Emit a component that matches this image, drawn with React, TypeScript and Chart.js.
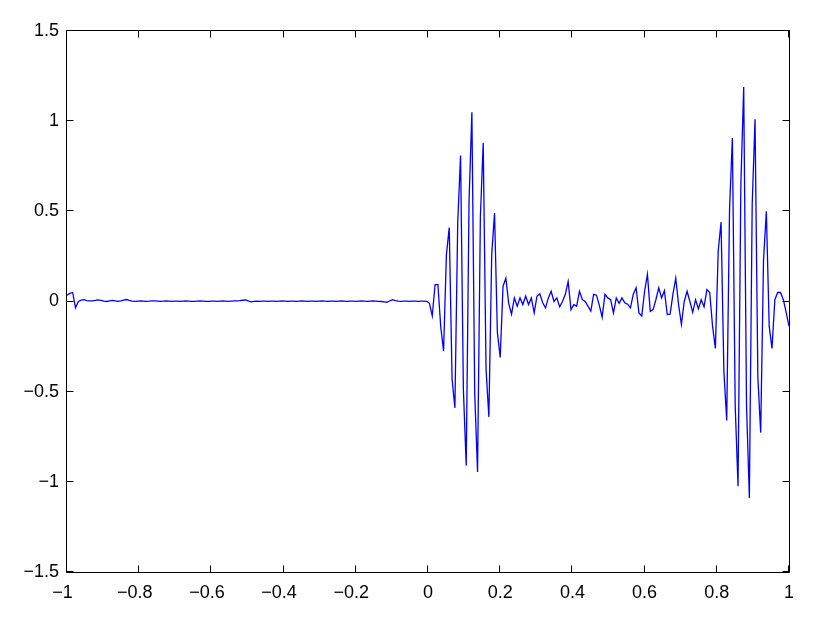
import React, { useEffect, useRef } from "react";
import { Chart, registerables } from "chart.js";

Chart.register(...registerables);

const X_MIN = -1;
const X_MAX = 1;
const Y_MIN = -1.5;
const Y_MAX = 1.5;
const X_TICKS = [-1, -0.8, -0.6, -0.4, -0.2, 0, 0.2, 0.4, 0.6, 0.8, 1];
const Y_TICKS = [-1.5, -1, -0.5, 0, 0.5, 1, 1.5];

// 256 samples, evenly spaced over [-1, 1]
const SIGNAL = [
  0.035, 0.045, 0.05, -0.035, 0.0, 0.008, 0.01, 0.005, 0.003, 0.004, 0.006, 0.009, 0.006, 0.002, 0.0, 0.003,
  0.006, 0.004, 0.001, 0.003, 0.008, 0.011, 0.006, 0.002, 0.001, 0.002, 0.003, 0.002, 0.001, 0.002, 0.004, 0.003,
  0.002, 0.001, 0.002, 0.003, 0.002, 0.001, 0.002, 0.002, 0.001, 0.002, 0.003, 0.002, 0.001, 0.001, 0.002, 0.003,
  0.002, 0.001, 0.001, 0.002, 0.002, 0.001, 0.002, 0.003, 0.002, 0.001, 0.002, 0.003, 0.004, 0.005, 0.007, 0.009,
  0.003, -0.002, 0.001, 0.002, 0.001, 0.002, 0.002, 0.001, 0.002, 0.002, 0.001, 0.002, 0.003, 0.002, 0.001, 0.002,
  0.002, 0.001, 0.002, 0.003, 0.002, 0.001, 0.002, 0.002, 0.001, 0.002, 0.003, 0.002, 0.001, 0.002, 0.002, 0.001,
  0.002, 0.003, 0.002, 0.001, 0.002, 0.002, 0.001, 0.002, 0.003, 0.002, 0.001, 0.002, 0.003, 0.002, 0.001, 0.0,
  -0.002, -0.004, 0.004, 0.01, 0.005, 0.002, 0.001, 0.002, 0.002, 0.001, 0.002, 0.002, 0.001, 0.002, 0.002, 0.001,
  -0.01, -0.08, 0.094, 0.094, -0.14, -0.275, 0.26, 0.41, -0.43, -0.59, 0.44, 0.81, -0.49, -0.91, 0.56, 1.05,
  -0.51, -0.945, 0.47, 0.88, -0.376, -0.64, 0.26, 0.49, -0.17, -0.31, 0.085, 0.13, -0.01, -0.07, 0.02, -0.026,
  0.02, -0.017, 0.03, -0.017, 0.02, -0.063, 0.03, 0.042, -0.007, -0.035, 0.02, 0.057, 0.0, 0.02, -0.03, 0.0,
  0.04, 0.11, -0.045, -0.017, -0.026, 0.057, 0.011, 0.0, -0.026, -0.053, 0.04, 0.035, -0.02, -0.087, 0.04, 0.02,
  0.01, -0.063, 0.02, -0.01, 0.02, -0.007, -0.015, -0.035, 0.04, 0.076, -0.063, -0.08, 0.057, 0.15, -0.055, -0.045,
  0.011, 0.076, 0.02, 0.06, -0.072, -0.07, 0.04, 0.13, -0.017, -0.127, 0.0, 0.057, 0.0, -0.06, 0.01, -0.04,
  0.01, -0.03, 0.066, 0.05, -0.137, -0.26, 0.28, 0.44, -0.386, -0.66, 0.51, 0.906, -0.58, -1.025, 0.65, 1.19,
  -0.58, -1.09, 0.537, 1.01, -0.42, -0.727, 0.23, 0.5, -0.137, -0.26, 0.01, 0.05, 0.05, 0.01, -0.06, -0.137,
];

const FONT = { family: "'Liberation Sans', Arial, Helvetica, sans-serif", size: 18 };

const fmtY = (v: number) => (v < 0 ? "\u2212" + String(Math.abs(v)) : String(v));
const fmtX = (v: number) => (v < 0 ? "\u2212" + String(Math.abs(v)) + "\u2002" : String(v));

const boxTicks = {
  id: "boxTicks",
  afterDraw(chart: any) {
    const { ctx, chartArea: a, scales } = chart;
    const L = a.left - 0.5;
    const R = a.right + 0.5;
    const T = a.top - 0.5;
    const B = a.bottom + 0.5;
    const len = 7;
    ctx.save();
    ctx.strokeStyle = "#000";
    ctx.lineWidth = 1;
    ctx.beginPath();
    ctx.rect(L, T, R - L, B - T);
    for (const v of X_TICKS) {
      const px = Math.round(scales.x.getPixelForValue(v)) - 0.5;
      ctx.moveTo(px, B);
      ctx.lineTo(px, B - len);
      ctx.moveTo(px, T);
      ctx.lineTo(px, T + len);
    }
    for (const v of Y_TICKS) {
      const py = Math.round(scales.y.getPixelForValue(v)) - 0.5;
      ctx.moveTo(L, py);
      ctx.lineTo(L + len, py);
      ctx.moveTo(R, py);
      ctx.lineTo(R - len, py);
    }
    ctx.stroke();
    ctx.restore();
  },
};

export default function App() {
  const ref = useRef<HTMLCanvasElement | null>(null);

  useEffect(() => {
    if (!ref.current) return;
    const n = SIGNAL.length;
    const points = SIGNAL.map((y, i) => ({ x: X_MIN + (i * (X_MAX - X_MIN)) / (n - 1), y }));
    const chart = new Chart(ref.current, {
      type: "line",
      data: {
        datasets: [
          {
            data: points,
            borderColor: "#0000ff",
            backgroundColor: "#0000ff",
            borderWidth: 1.3,
            pointRadius: 0,
            fill: false,
            tension: 0,
          },
        ],
      },
      options: {
        animation: false,
        responsive: false,
        maintainAspectRatio: false,
        layout: { padding: { top: 31, right: 41, left: 0, bottom: 0 } },
        plugins: { legend: { display: false }, tooltip: { enabled: false } },
        scales: {
          x: {
            type: "linear",
            min: X_MIN,
            max: X_MAX,
            grid: { display: false, drawTicks: false, tickLength: 0 },
            border: { display: false },
            afterBuildTicks: (s: any) => {
              s.ticks = X_TICKS.map((v) => ({ value: v }));
            },
            afterFit: (s: any) => {
              s.height = 53;
            },
            ticks: {
              color: "#000",
              font: FONT,
              padding: 10,
              maxRotation: 0,
              autoSkip: false,
              callback: (v: any) => fmtX(Number(v)),
            },
          },
          y: {
            type: "linear",
            min: Y_MIN,
            max: Y_MAX,
            grid: { display: false, drawTicks: false, tickLength: 0 },
            border: { display: false },
            afterBuildTicks: (s: any) => {
              s.ticks = Y_TICKS.map((v) => ({ value: v }));
            },
            afterFit: (s: any) => {
              s.width = 67;
            },
            ticks: {
              color: "#000",
              font: FONT,
              padding: 8,
              autoSkip: false,
              callback: (v: any) => fmtY(Number(v)),
            },
          },
        },
      },
      plugins: [boxTicks],
    });
    return () => chart.destroy();
  }, []);

  return (
    <div style={{ position: "fixed", left: 0, top: 0, width: 830, height: 625, background: "#fff" }}>
      <canvas ref={ref} width={830} height={625} style={{ display: "block", width: 830, height: 625 }} />
    </div>
  );
}
